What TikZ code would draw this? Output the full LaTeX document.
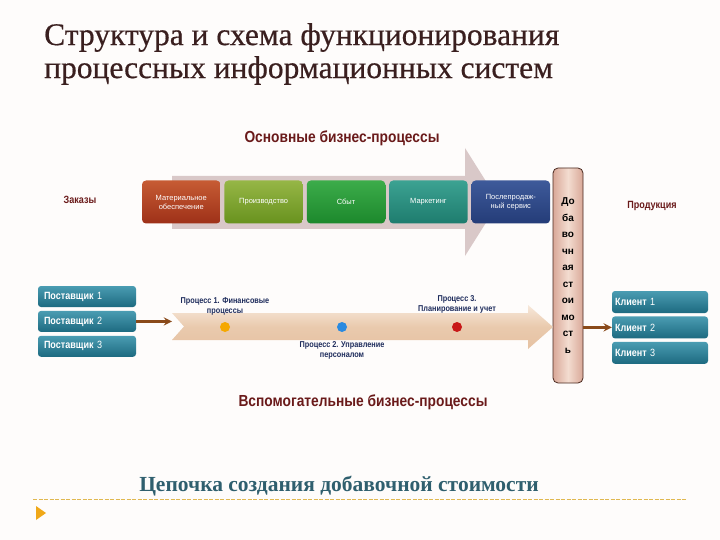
\documentclass[tikz,border=0pt]{standalone}
\usepackage{fontspec}
\setmainfont{Liberation Serif}
\setsansfont{Liberation Sans}
\newfontfamily\narrowsf[FakeStretch=0.86]{Liberation Sans}
\newfontfamily\titlefont[FakeBold=0.5]{Liberation Serif}
\usetikzlibrary{arrows}
\usetikzlibrary{positioning}

\definecolor{titlebrown}{HTML}{3A1F1F}
\definecolor{hdrred}{HTML}{6A1A1A}
\definecolor{navytext}{HTML}{1E2C5C}
\definecolor{chaincol}{HTML}{2F5F6E}
\definecolor{bigarrow}{HTML}{D9C8C8}
\definecolor{lowtop}{HTML}{F7E8DA}
\definecolor{lowmid}{HTML}{E6C2A2}
\definecolor{tealtop}{HTML}{4A9CB2}
\definecolor{tealbot}{HTML}{1D6A80}
\definecolor{barside}{HTML}{D9A898}
\definecolor{barmid}{HTML}{F3DCD0}
\definecolor{barborder}{HTML}{4A2A20}
\definecolor{arrowbrown}{HTML}{8A4A1A}
\definecolor{goldline}{HTML}{E0B850}
\definecolor{markorange}{HTML}{F0A818}

\begin{document}
\begin{tikzpicture}[x=1pt,y=-1pt,
procbox/.style={rounded corners=4pt, minimum width=78.5pt, minimum height=43pt, inner sep=1pt, text width=72pt, align=center, text=white, font=\sffamily\fontsize{7.5}{9}\selectfont},
tealbox/.style={rounded corners=3pt, top color=tealtop, bottom color=tealbot, minimum height=21pt, inner sep=0pt, align=left, text=white, font=\narrowsf\fontsize{10.5}{12}\selectfont},
hdr/.style={text=hdrred, font=\narrowsf\bfseries\fontsize{16}{18}\selectfont},
smallhdr/.style={text=hdrred, font=\narrowsf\bfseries\fontsize{10.5}{12}\selectfont},
dot/.style={circle, inner sep=0pt, minimum size=10pt},
lbl/.style={text=navytext, align=center, inner sep=1pt, font=\narrowsf\bfseries\fontsize{8.5}{10.5}\selectfont},
brownarrow/.style={->, >=stealth, line width=2.6pt, draw=arrowbrown},
]
\useasboundingbox[fill=white!98!brown] (0,0) rectangle (720,540);

% title
\node[anchor=north west, align=left, inner sep=0pt, text=titlebrown, font=\titlefont\fontsize{31.5}{33}\selectfont](title) at (44,23){Структура и схема функционирования\\процессных информационных систем};

% main processes
\node[hdr](mainhdr) at (342,138){Основные бизнес-процессы};
\fill[bigarrow] (172,176) -- (465,176) -- (465,148) -- (499,202) -- (465,256) -- (465,229) -- (172,229) -- cycle;
\node[procbox, top color={rgb,255:red,198;green,92;blue,52}, bottom color={rgb,255:red,158;green,48;blue,24}](p1) at (181.25,202){Материальное обеспечение};
\node[procbox, top color={rgb,255:red,150;green,182;blue,70}, bottom color={rgb,255:red,104;green,146;blue,30}](p2)[right=3.5pt of p1]{Производство};
\node[procbox, top color={rgb,255:red,60;green,172;blue,74}, bottom color={rgb,255:red,28;green,136;blue,44}](p3)[right=3.5pt of p2]{Сбыт};
\node[procbox, top color={rgb,255:red,60;green,162;blue,146}, bottom color={rgb,255:red,30;green,124;blue,110}](p4)[right=3.5pt of p3]{Маркетинг};
\node[procbox, top color={rgb,255:red,62;green,90;blue,154}, bottom color={rgb,255:red,36;green,60;blue,120}](p5)[right=3.5pt of p4]{Послепродаж-\\ный сервис};
\node[smallhdr](orders) at (80,200){Заказы};
\node[smallhdr](goods) at (652,206){Продукция};

% value bar
\node[draw=barborder, line width=0.8pt, rounded corners=5pt, minimum width=30pt, minimum height=215pt, inner sep=0pt, left color=barside, right color=barside, middle color=barmid, text width=22pt, align=center, font=\sffamily\bfseries\fontsize{10}{16.5}\selectfont](bar) at (568,275.5){До\\ба\\во\\чн\\ая\\ст\\ои\\мо\\ст\\ь};

% support processes
\shade[top color=lowtop, bottom color=lowmid, middle color=lowmid!80!lowtop] (172,313) -- (528,313) -- (528,305) -- (553,327) -- (528,349) -- (528,340) -- (172,340) -- (184,326.5) -- cycle;
\coordinate (tail) at (172,321.5);
\node[dot, fill={rgb,255:red,245;green,168;blue,0}, label={[lbl, label distance=5pt]above:{Процесс 1. Финансовые\\процессы}}](d1) at (225,327){};
\node[dot, fill={rgb,255:red,42;green,138;blue,224}, label={[lbl, label distance=8pt]below:{Процесс 2. Управление\\персоналом}}](d2) at (342,327){};
\node[dot, fill={rgb,255:red,200;green,24;blue,24}, label={[lbl, label distance=7pt]above:{Процесс 3.\\Планирование и учет}}](d3) at (457,327){};
\node[hdr](suphdr) at (363,402){Вспомогательные бизнес-процессы};

% suppliers and clients
\node[tealbox, minimum width=98pt, text width=86pt](s1) at (87,296.5){\textbf{Поставщик} 1};
\node[tealbox, minimum width=98pt, text width=86pt](s2)[below=3.5pt of s1]{\textbf{Поставщик} 2};
\node[tealbox, minimum width=98pt, text width=86pt](s3)[below=3.5pt of s2]{\textbf{Поставщик} 3};
\node[tealbox, minimum width=96pt, text width=90pt, minimum height=22pt](k1) at (660,302){\textbf{Клиент} 1};
\node[tealbox, minimum width=96pt, text width=90pt, minimum height=22pt](k2)[below=3pt of k1]{\textbf{Клиент} 2};
\node[tealbox, minimum width=96pt, text width=90pt, minimum height=22pt](k3)[below=3pt of k2]{\textbf{Клиент} 3};
\draw[brownarrow] (s2.east) -- (s2.east -| tail);
\draw[brownarrow] (bar.east |- k2.west) -- (k2.west);

% footer
\node[text=chaincol, font=\bfseries\fontsize{21.5}{23}\selectfont](chain) at (339,486){Цепочка создания добавочной стоимости};
\draw[goldline, line width=1pt, dash pattern=on 4pt off 1.5pt] (33,499.5) -- (686,499.5);
\fill[markorange] (36,506) -- (46,513) -- (36,520) -- cycle;
\end{tikzpicture}
\end{document}
